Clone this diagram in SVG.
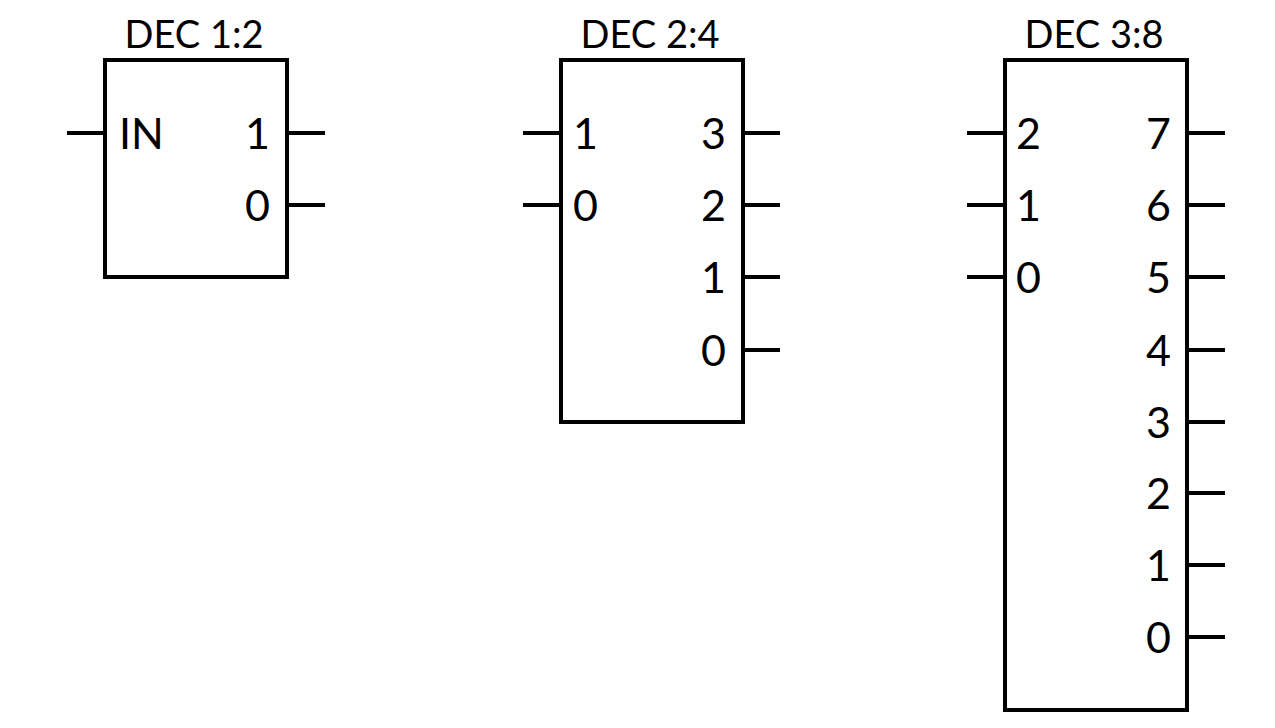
<svg xmlns="http://www.w3.org/2000/svg" width="1275" height="728" viewBox="0 0 1275 728">
<style>
.box{fill:none;stroke:#000;stroke-width:4}
.pin{stroke:#000;stroke-width:4}
.t{font-family:Lato,"Open Sans","Liberation Sans",sans-serif;font-size:43px;fill:#000}
.ttl{font-family:Lato,"Open Sans","Liberation Sans",sans-serif;font-size:38px;fill:#000;text-anchor:middle}
.r{text-anchor:end}
</style>
<rect width="1275" height="728" fill="#fff"/>
<g id="dec12">
<rect class="box" x="105" y="60" width="182" height="217"/>
<text class="ttl" x="194" y="48">DEC 1:2</text>
<text class="t" x="119" y="149">IN</text>
<text class="t r" x="270" y="149">1</text>
<text class="t r" x="270" y="221">0</text>
</g>
<g id="dec24">
<rect class="box" x="561" y="60" width="182" height="362"/>
<text class="ttl" x="650" y="48">DEC 2:4</text>
<text class="t" x="573" y="149">1</text>
<text class="t" x="573" y="221">0</text>
<text class="t r" x="726" y="149">3</text>
<text class="t r" x="726" y="221">2</text>
<text class="t r" x="726" y="293">1</text>
<text class="t r" x="726" y="366">0</text>
</g>
<g id="dec38">
<rect class="box" x="1005" y="60" width="182" height="650"/>
<text class="ttl" x="1094" y="48">DEC 3:8</text>
<text class="t" x="1016" y="149">2</text>
<text class="t" x="1016" y="221">1</text>
<text class="t" x="1016" y="293">0</text>
<text class="t r" x="1171" y="149">7</text>
<text class="t r" x="1171" y="221">6</text>
<text class="t r" x="1171" y="293">5</text>
<text class="t r" x="1171" y="366">4</text>
<text class="t r" x="1171" y="438">3</text>
<text class="t r" x="1171" y="509">2</text>
<text class="t r" x="1171" y="581">1</text>
<text class="t r" x="1171" y="653">0</text>
</g>
<g id="connectors">
<line class="pin" x1="67" y1="133" x2="105" y2="133"/>
<line class="pin" x1="287" y1="133" x2="325" y2="133"/>
<line class="pin" x1="287" y1="205" x2="325" y2="205"/>
<line class="pin" x1="523" y1="133" x2="561" y2="133"/>
<line class="pin" x1="523" y1="205" x2="561" y2="205"/>
<line class="pin" x1="743" y1="133" x2="780" y2="133"/>
<line class="pin" x1="743" y1="205" x2="780" y2="205"/>
<line class="pin" x1="743" y1="277" x2="780" y2="277"/>
<line class="pin" x1="743" y1="350" x2="780" y2="350"/>
<line class="pin" x1="967" y1="133" x2="1005" y2="133"/>
<line class="pin" x1="967" y1="205" x2="1005" y2="205"/>
<line class="pin" x1="967" y1="277" x2="1005" y2="277"/>
<line class="pin" x1="1187" y1="133" x2="1225" y2="133"/>
<line class="pin" x1="1187" y1="205" x2="1225" y2="205"/>
<line class="pin" x1="1187" y1="277" x2="1225" y2="277"/>
<line class="pin" x1="1187" y1="350" x2="1225" y2="350"/>
<line class="pin" x1="1187" y1="422" x2="1225" y2="422"/>
<line class="pin" x1="1187" y1="493" x2="1225" y2="493"/>
<line class="pin" x1="1187" y1="565" x2="1225" y2="565"/>
<line class="pin" x1="1187" y1="637" x2="1225" y2="637"/>
</g>
</svg>
